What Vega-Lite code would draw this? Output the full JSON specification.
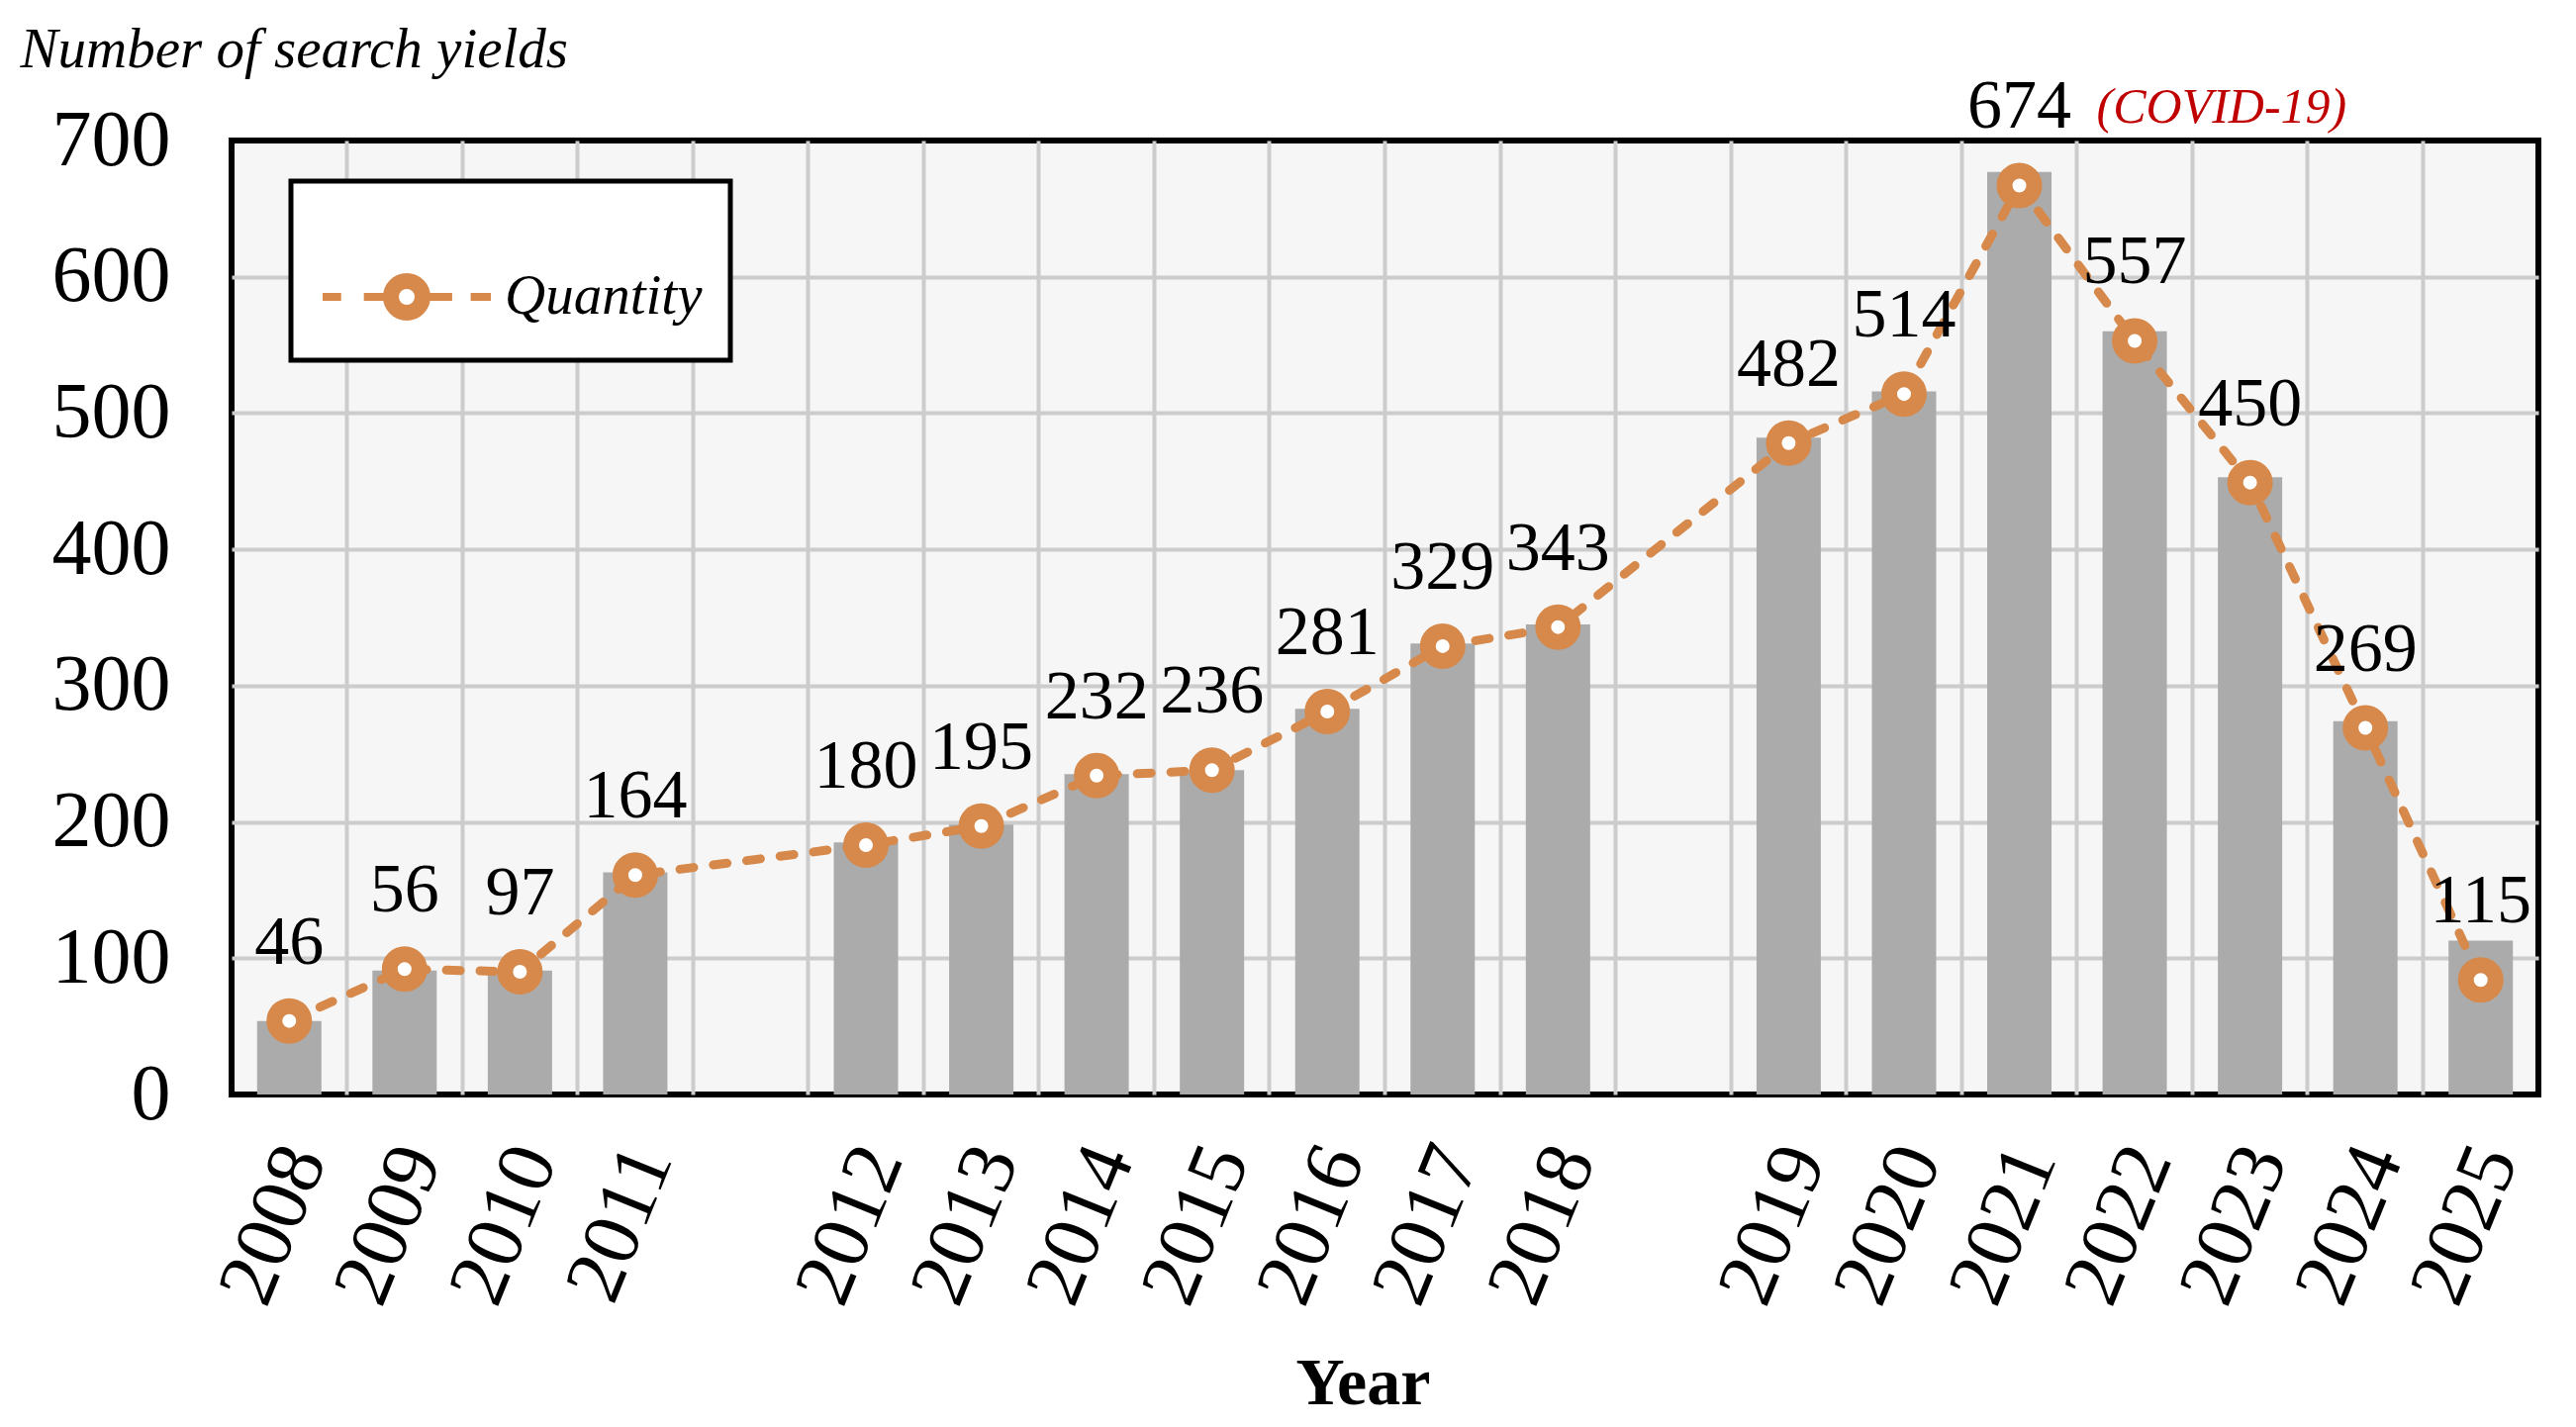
{
  "$schema": "https://vega.github.io/schema/vega-lite/v6.json",
  "width": 2331,
  "height": 964,
  "autosize": {"type": "none"},
  "padding": {"left": 234, "top": 142, "right": 38, "bottom": 336},
  "background": "white",
  "config": {
    "view": {"stroke": "black", "strokeWidth": 6, "fill": "#f6f6f6"},
    "legend": {"strokeWidth": 5}
  },
  "data": {
    "values": [
      {"year": "2008", "bar": 54, "line": 54, "label": 46},
      {"year": "2009", "bar": 91, "line": 92, "label": 56},
      {"year": "2010", "bar": 91, "line": 90, "label": 97},
      {"year": "2011", "bar": 163, "line": 161, "label": 164},
      {"year": "2012", "bar": 185, "line": 183, "label": 180},
      {"year": "2013", "bar": 198, "line": 197, "label": 195},
      {"year": "2014", "bar": 235, "line": 234, "label": 232},
      {"year": "2015", "bar": 238, "line": 238, "label": 236},
      {"year": "2016", "bar": 283, "line": 281, "label": 281},
      {"year": "2017", "bar": 331, "line": 329, "label": 329},
      {"year": "2018", "bar": 345, "line": 343, "label": 343},
      {"year": "2019", "bar": 482, "line": 478, "label": 482},
      {"year": "2020", "bar": 516, "line": 514, "label": 514},
      {"year": "2021", "bar": 677, "line": 667, "label": 674},
      {"year": "2022", "bar": 560, "line": 553, "label": 557},
      {"year": "2023", "bar": 453, "line": 449, "label": 450},
      {"year": "2024", "bar": 274, "line": 269, "label": 269},
      {"year": "2025", "bar": 113, "line": 84, "label": 115}
    ]
  },
  "encoding": {
    "x": {
      "field": "year",
      "type": "nominal",
      "scale": {
        "domain": ["2008", "2009", "2010", "2011", "gap1", "2012", "2013", "2014", "2015", "2016", "2017", "2018", "gap2", "2019", "2020", "2021", "2022", "2023", "2024", "2025"],
        "paddingInner": 0,
        "paddingOuter": 0
      },
      "axis": {
        "title": "Year",
        "titleFont": "Liberation Serif",
        "titleFontWeight": "bold",
        "titleFontSize": 68,
        "titleColor": "black",
        "titleX": 1143,
        "titleY": 312,
        "titleAlign": "center",
        "titleBaseline": "alphabetic",
        "labelFont": "Liberation Serif",
        "labelFontSize": 82,
        "labelColor": "black",
        "labelAngle": -68,
        "labelAlign": "right",
        "labelBaseline": "middle",
        "labelPadding": 55,
        "labelOffset": 15,
        "bandPosition": 0,
        "labelOverlap": false,
        "labelFlush": false,
        "labelExpr": "indexof(datum.label, 'gap') === 0 ? '' : datum.label",
        "ticks": false,
        "domain": false,
        "grid": true,
        "gridColor": "#cccccc",
        "gridWidth": 4,
        "gridOpacity": {"condition": {"test": "datum.value === '2008'", "value": 0}, "value": 1}
      }
    }
  },
  "layer": [
    {
      "mark": {"type": "bar", "color": "#ababab", "size": 65},
      "encoding": {
        "y": {
          "field": "bar",
          "type": "quantitative",
          "scale": {"domain": [0, 700], "nice": false},
          "axis": {
            "title": "Number of search yields",
            "titleAngle": 0,
            "titleFont": "Liberation Serif",
            "titleFontStyle": "italic",
            "titleFontWeight": 400,
            "titleFontSize": 57,
            "titleColor": "black",
            "titleX": -214,
            "titleY": -75,
            "titleAlign": "left",
            "titleBaseline": "alphabetic",
            "labelFont": "Liberation Serif",
            "labelFontSize": 80,
            "labelColor": "black",
            "labelPadding": 62,
            "ticks": false,
            "domain": false,
            "grid": true,
            "gridColor": "#cccccc",
            "gridWidth": 4,
            "gridOpacity": {"condition": {"test": "datum.value === 0 || datum.value === 700", "value": 0}, "value": 1},
            "values": [0, 100, 200, 300, 400, 500, 600, 700]
          }
        }
      }
    },
    {
      "mark": {"type": "line", "color": "#D6894A", "strokeWidth": 9, "strokeDash": [14, 20], "strokeCap": "round"},
      "encoding": {
        "y": {"field": "line", "type": "quantitative"}
      }
    },
    {
      "mark": {"type": "point", "shape": "circle", "size": 900, "strokeWidth": 16, "filled": false, "fill": "white", "opacity": 1},
      "encoding": {
        "y": {"field": "line", "type": "quantitative"},
        "stroke": {
          "datum": "Quantity",
          "scale": {"domain": ["Quantity"], "range": ["#D6894A"]},
          "legend": {
            "title": null,
            "orient": "none",
            "legendX": 60,
            "legendY": 41,
            "symbolType": "M-1,0L-0.78,0M-0.51,0L-0.27,0M0.27,0L0.54,0M0.76,0L1,0M0.235,0A0.235,0.235 0 1,1 -0.235,0A0.235,0.235 0 1,1 0.235,0M0.141,0A0.141,0.141 0 1,1 -0.141,0A0.141,0.141 0 1,1 0.141,0",
            "symbolSize": 28900,
            "symbolStrokeWidth": 8,
            "symbolStrokeColor": "#D6894A",
            "symbolFillColor": "white",
            "symbolOpacity": 1,
            "labelFont": "Liberation Serif",
            "labelFontStyle": "italic",
            "labelFontSize": 57,
            "labelColor": "black",
            "labelLimit": 500,
            "labelOffset": 10,
            "padding": 28,
            "strokeColor": "black",
            "fillColor": "white",
            "cornerRadius": 0
          }
        }
      }
    },
    {
      "mark": {"type": "text", "font": "Liberation Serif", "fontSize": 70, "baseline": "alphabetic", "dy": -58, "color": "black"},
      "encoding": {
        "y": {"field": "line", "type": "quantitative"},
        "text": {"field": "label", "type": "nominal"}
      }
    },
    {
      "transform": [{"filter": "datum.year === '2021'"}],
      "mark": {"type": "text", "text": "(COVID-19)", "font": "Liberation Serif", "fontStyle": "italic", "fontSize": 50, "align": "left", "baseline": "alphabetic", "dx": 78, "dy": -63, "color": "#C00000"},
      "encoding": {
        "y": {"field": "line", "type": "quantitative"}
      }
    }
  ]
}
